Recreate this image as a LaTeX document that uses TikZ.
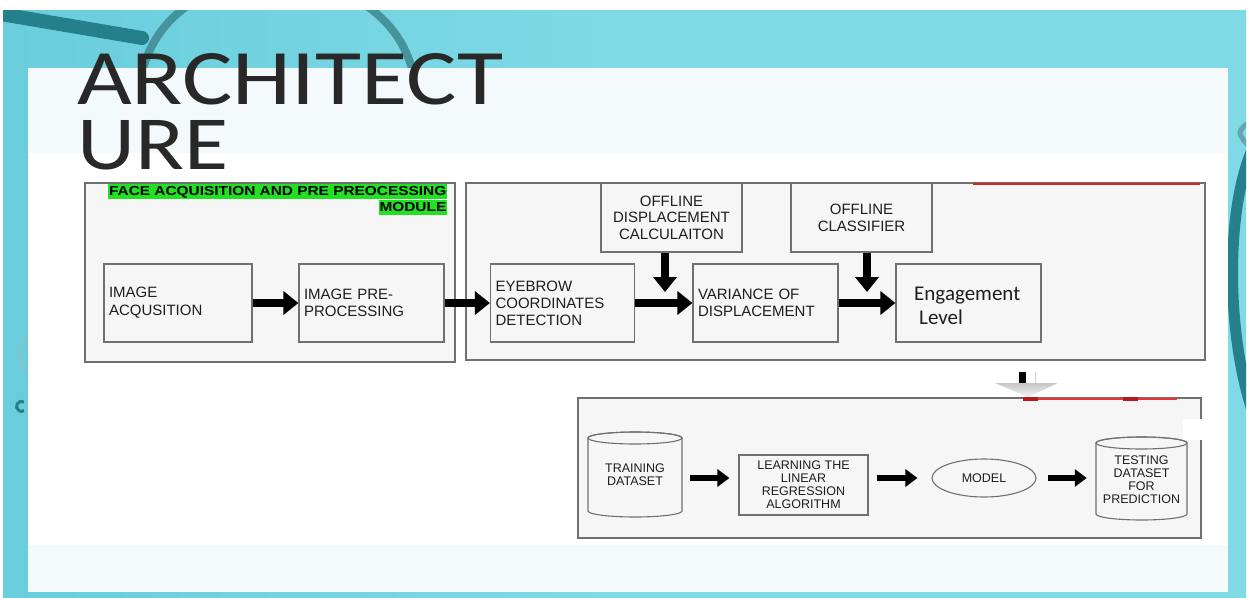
\documentclass[tikz,border=0pt]{standalone}
\usepackage{fontspec}
\setmainfont{Liberation Sans}
\newfontfamily\calib{Carlito}
\usetikzlibrary{arrows.meta,shapes.geometric}
\definecolor{tealbg}{RGB}{128,218,230}
\definecolor{tealL}{RGB}{105,205,220}
\definecolor{tealD}{RGB}{38,128,140}
\definecolor{panelT}{RGB}{244,249,251}
\definecolor{boxfill}{RGB}{246,246,246}
\definecolor{boxgray}{RGB}{112,112,112}
\definecolor{titlec}{RGB}{40,40,40}
\definecolor{hlgreen}{RGB}{34,224,34}
\definecolor{redline}{RGB}{226,32,32}
\definecolor{txt}{RGB}{30,30,30}
\begin{document}
\begin{tikzpicture}[x=1pt,y=-1pt,
  frame/.style={draw=boxgray, line width=1.3pt, fill=boxfill, rectangle, inner sep=0pt},
  box/.style={draw=boxgray, line width=1.2pt, fill=boxfill, rectangle, inner sep=0pt, text=txt,
     font=\fontsize{15}{17}\selectfont},
  lbox/.style={box, align=left, inner xsep=5pt},
  cbox/.style={box, align=center},
  sbox/.style={draw=boxgray, line width=1.1pt, fill=boxfill, inner sep=0pt, text=txt, align=center,
     font=\fontsize{12.5}{13}\selectfont},
  bigarrow/.style={line width=8pt, -{Triangle[length=15pt,width=23pt]}},
  smallarrow/.style={line width=5.5pt, -{Triangle[length=12pt,width=17pt]}},
  cyl/.style={draw=boxgray, line width=1.1pt, fill=boxfill},
  hl/.style={fill=hlgreen, anchor=north east, inner xsep=1pt, inner ysep=1pt, text height=10.5pt,
     text depth=2.5pt, font=\fontsize{13}{14}\bfseries},
  titlestyle/.style={anchor=base west, inner sep=0pt, text=titlec, text depth=0pt}
]
\useasboundingbox (0,0) rectangle (1249,597);
% ---------- background ----------
\fill[white] (0,0) rectangle (1249,597);
\shade[left color=tealL, right color=tealbg, middle color=tealbg] (3,10) rectangle (1246,597);
% stethoscope hints
\begin{scope}
\clip (3,10) rectangle (1246,597);
\draw[tealD, line width=14pt, line cap=round] (-5,13) -- (142,38);
\draw[tealD!85, line width=8pt] (142,72) .. controls (150,42) and (165,22) .. (187,6);
\draw[tealD!85, line width=8pt] (367,6) .. controls (389,22) and (405,42) .. (413,72);
\draw[tealD, line width=11pt] (1252,150) .. controls (1226,210) and (1226,330) .. (1252,410);
\draw[tealD!70, line width=5pt] (1252,120) .. controls (1236,132) .. (1252,150);
\draw[tealD, line width=3pt] (24,402) arc[start angle=60, end angle=300, radius=5pt];
\draw[tealD!50, line width=1.5pt] (30,335) arc[start angle=120, end angle=240, radius=22pt];
\end{scope}
% panel
\fill[panelT] (28,68) rectangle (1228,592);
\fill[white] (28,153) rectangle (1228,545);
% ---------- title ----------
\node[titlestyle, text height=51pt] (t1) at (77,104) {\resizebox{426pt}{51pt}{\calib ARCHITECT}};
\node[titlestyle, text height=49pt] (t2) at (77,169) {\resizebox{151pt}{49pt}{\calib URE}};
% ---------- frames ----------
\node[frame, minimum width=370pt, minimum height=179pt] (mod1) at (270,272.5) {};
\node[frame, minimum width=739pt, minimum height=177pt] (mod2) at (835.5,271.5) {};
\node[frame, minimum width=623pt, minimum height=140pt] (bot) at (889.5,468) {};
% module label
\node[hl] (lbl1) at (447.5,183.5) {\scalebox{1.185}[1]{FACE ACQUISITION AND PRE PREOCESSING}};
\node[hl] (lbl2) at (447.5,199.5) {\scalebox{1.185}[1]{MODULE}};
% red line on module 2
\draw[redline, line width=2.6pt] (973,184) -- (1200,184);
% ---------- upper boxes ----------
\node[lbox, minimum width=148pt, minimum height=78pt, text width=138pt] (acq) at (178,303) {IMAGE\\[1pt]ACQUSITION};
\node[lbox, minimum width=145pt, minimum height=78pt, text width=135pt] (pre) at (371.5,303) {IMAGE PRE-\\PROCESSING};
\node[lbox, minimum width=144pt, minimum height=78pt, text width=134pt] (eye) at (562.5,303) {EYEBROW\\COORDINATES\\DETECTION};
\node[lbox, minimum width=145pt, minimum height=78pt, text width=135pt] (var) at (765.5,303) {VARIANCE OF\\DISPLACEMENT};
\node[box, minimum width=145pt, minimum height=78pt] (eng) at (968.5,303) {};
\node[anchor=west, inner sep=0pt, align=left, text=txt, font=\calib\fontsize{21}{24}\selectfont] (engtxt) at (914,306) {Engagement\\\hspace*{5pt}Level};
\node[cbox, minimum width=141pt, minimum height=69pt, font=\fontsize{15}{16.5}\selectfont] (odc) at (671.5,217.5) {OFFLINE\\DISPLACEMENT\\CALCULAITON};
\node[cbox, minimum width=141pt, minimum height=69pt] (ocl) at (861.5,217.5) {OFFLINE\\CLASSIFIER};
\coordinate (odcend) at (665,292);
\coordinate (oclend) at (867,292);
% ---------- upper arrows ----------
\draw[bigarrow] (acq.east) -- (pre.west);
\draw[bigarrow] (pre.east) -- (eye.west);
\draw[bigarrow] (eye.east) -- (var.west);
\draw[bigarrow] (var.east) -- (eng.west);
\draw[bigarrow] (odc.south -| odcend) -- (odcend);
\draw[bigarrow] (ocl.south -| oclend) -- (oclend);
% ---------- link between sections ----------
\fill[black] (1019,372) rectangle (1026,384);
\draw[gray!40, line width=1pt] (1035,372) -- (1035,385);
\shade[top color=gray!45, bottom color=gray!8] (995,383) -- (1058,383) -- (1028,397) -- cycle;
% bottom frame red marks
\draw[redline!90, line width=2pt] (1023,398.5) -- (1177,398.5);
\draw[redline!80!black, line width=3.5pt] (1023,399) -- (1038,399);
\draw[redline!80!black, line width=3.5pt] (1123,399) -- (1138,399);
\fill[white] (1183,419) rectangle (1206,440);
% ---------- lower row: cylinders ----------
\filldraw[cyl] (588,438) -- (588,511) arc[start angle=180, end angle=360, x radius=47pt, y radius=6pt]
   -- (682,438) arc[start angle=0, end angle=180, x radius=47pt, y radius=6pt] -- cycle;
\draw[cyl, fill=none] (635,438) ellipse[x radius=47pt, y radius=6pt];
\filldraw[cyl] (1096,443) -- (1096,514) arc[start angle=180, end angle=360, x radius=45.5pt, y radius=6pt]
   -- (1187,443) arc[start angle=0, end angle=180, x radius=45.5pt, y radius=6pt] -- cycle;
\draw[cyl, fill=none] (1141.5,443) ellipse[x radius=45.5pt, y radius=6pt];
\node[inner sep=0pt, minimum width=94pt, minimum height=85pt, align=center, text=txt,
      font=\fontsize{12.5}{13}\selectfont] (train) at (635,474.5) {TRAINING\\DATASET};
\node[sbox, rectangle, minimum width=129pt, minimum height=60pt] (learn) at (803.5,485) {LEARNING THE\\LINEAR\\REGRESSION\\ALGORITHM};
\node[sbox, ellipse, minimum width=104pt, minimum height=38pt] (model) at (984,478) {MODEL};
\node[inner sep=0pt, minimum width=91pt, minimum height=83pt, align=center, text=txt,
      font=\fontsize{12.5}{13}\selectfont] (test) at (1141.5,479.5) {TESTING\\DATASET\\FOR\\PREDICTION};
\draw[smallarrow, shorten <=8pt, shorten >=9pt] (train.east |- model) -- (learn.west |- model);
\draw[smallarrow, shorten <=8pt, shorten >=14pt] (learn.east |- model) -- (model.west);
\draw[smallarrow, shorten <=11pt, shorten >=9pt] (model.east) -- (test.west |- model);
\end{tikzpicture}
\end{document}
